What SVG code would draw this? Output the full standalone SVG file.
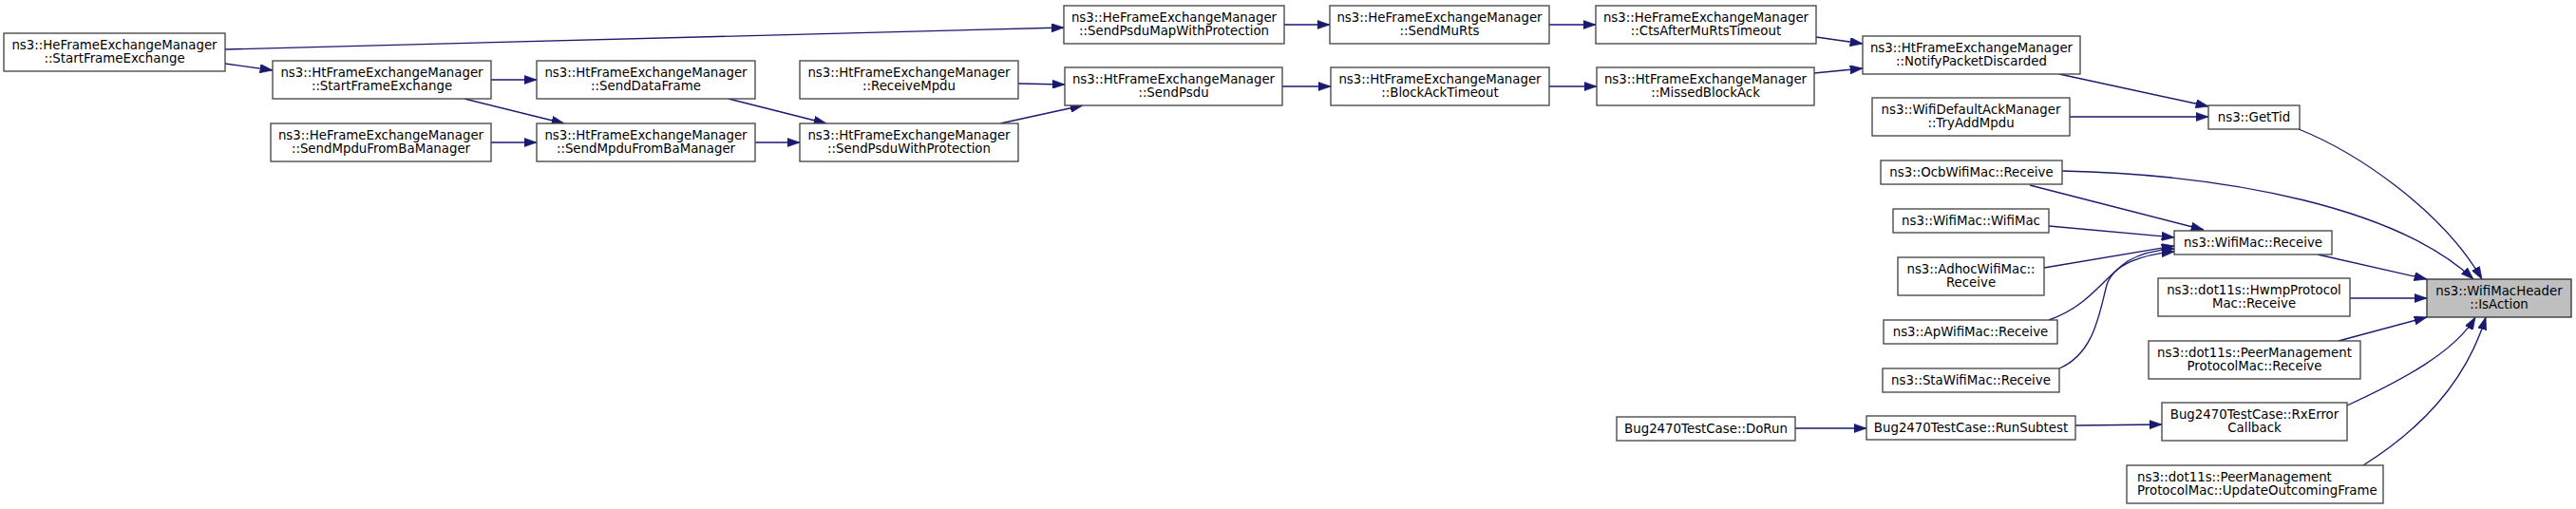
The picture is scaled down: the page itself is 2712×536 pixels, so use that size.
<svg xmlns="http://www.w3.org/2000/svg" width="2712" height="536" viewBox="0 0 2712 536">
<style>
.n rect{fill:#ffffff;stroke:#444444;stroke-width:1.33}
.h rect{fill:#bfbfbf;stroke:#333333;stroke-width:1.33}
text{font-family:"DejaVu Sans","Liberation Sans",sans-serif;font-size:13.33px;fill:#000000;text-anchor:middle}
text.l{text-anchor:start}
#edges path{fill:none;stroke:#191970;stroke-width:1.33;marker-end:url(#arr)}
</style>
<defs>
<marker id="arr" viewBox="0 0 10 7" refX="10" refY="3.5" markerWidth="13.3" markerHeight="9.3" markerUnits="userSpaceOnUse" orient="auto">
<path d="M0,0 L10,3.5 L0,7 Z" fill="#191970" stroke="#191970" stroke-width="0.5"/>
</marker>
</defs>
<rect width="2712" height="536" fill="#ffffff"/>
<g id="edges">
<path d="M237,52 L1120,29"/>
<path d="M237,67 L287,74"/>
<path d="M517,84 L565,84"/>
<path d="M489,104 L594,130"/>
<path d="M517,150 L565,150"/>
<path d="M767,104 L870,130"/>
<path d="M795,150 L842,150"/>
<path d="M1072,88 L1121,89"/>
<path d="M1053,130 L1140,111"/>
<path d="M1352,26 L1400,26"/>
<path d="M1350,91 L1401,91"/>
<path d="M1631,26 L1680,26"/>
<path d="M1631,91 L1681,91"/>
<path d="M1912,39 L1961,46"/>
<path d="M1910,77 L1961,72"/>
<path d="M2168,78 L2325,112"/>
<path d="M2179,123 L2325,123"/>
<path d="M2420,136 C2480,160 2570,220 2613,294"/>
<path d="M2171,180 C2350,184 2525,220 2604,294"/>
<path d="M2137,195 L2320,242"/>
<path d="M2157,238 L2289,250"/>
<path d="M2152,282 L2289,259"/>
<path d="M2157,337 C2200,322 2215,292 2240,275 C2255,266 2270,263 2289,262"/>
<path d="M2168,388 C2205,372 2210,330 2218,300 C2225,278 2255,268 2289,265"/>
<path d="M2440,268 L2555,294"/>
<path d="M2474,314 L2555,314"/>
<path d="M2462,359 L2555,334"/>
<path d="M2471,427 C2530,400 2585,370 2606,334"/>
<path d="M2488,490 C2560,445 2600,390 2617,334"/>
<path d="M1890,451 L1965,451"/>
<path d="M2185,448 L2276,447"/>
</g>
<g id="nA" class="n"><rect x="4" y="35" width="233" height="40"/><text x="120.5" y="51.5">ns3::HeFrameExchangeManager</text><text x="120.5" y="66.2">::StartFrameExchange</text></g>
<g id="nB" class="n"><rect x="287" y="64" width="230" height="40"/><text x="402" y="80.5">ns3::HtFrameExchangeManager</text><text x="402" y="95.2">::StartFrameExchange</text></g>
<g id="nC" class="n"><rect x="285" y="130" width="232" height="40"/><text x="401" y="146.5">ns3::HeFrameExchangeManager</text><text x="401" y="161.2">::SendMpduFromBaManager</text></g>
<g id="nD" class="n"><rect x="565" y="64" width="230" height="40"/><text x="680" y="80.5">ns3::HtFrameExchangeManager</text><text x="680" y="95.2">::SendDataFrame</text></g>
<g id="nE" class="n"><rect x="565" y="130" width="230" height="40"/><text x="680" y="146.5">ns3::HtFrameExchangeManager</text><text x="680" y="161.2">::SendMpduFromBaManager</text></g>
<g id="nF" class="n"><rect x="842" y="64" width="230" height="40"/><text x="957" y="80.5">ns3::HtFrameExchangeManager</text><text x="957" y="95.2">::ReceiveMpdu</text></g>
<g id="nG" class="n"><rect x="842" y="130" width="230" height="40"/><text x="957" y="146.5">ns3::HtFrameExchangeManager</text><text x="957" y="161.2">::SendPsduWithProtection</text></g>
<g id="nH" class="n"><rect x="1120" y="6" width="232" height="40"/><text x="1236" y="22.5">ns3::HeFrameExchangeManager</text><text x="1236" y="37.2">::SendPsduMapWithProtection</text></g>
<g id="nI" class="n"><rect x="1121" y="71" width="229" height="40"/><text x="1235.5" y="87.5">ns3::HtFrameExchangeManager</text><text x="1235.5" y="102.2">::SendPsdu</text></g>
<g id="nJ" class="n"><rect x="1400" y="6" width="231" height="40"/><text x="1515.5" y="22.5">ns3::HeFrameExchangeManager</text><text x="1515.5" y="37.2">::SendMuRts</text></g>
<g id="nK" class="n"><rect x="1401" y="71" width="230" height="40"/><text x="1516" y="87.5">ns3::HtFrameExchangeManager</text><text x="1516" y="102.2">::BlockAckTimeout</text></g>
<g id="nL" class="n"><rect x="1680" y="6" width="232" height="40"/><text x="1796" y="22.5">ns3::HeFrameExchangeManager</text><text x="1796" y="37.2">::CtsAfterMuRtsTimeout</text></g>
<g id="nM" class="n"><rect x="1681" y="71" width="229" height="40"/><text x="1795.5" y="87.5">ns3::HtFrameExchangeManager</text><text x="1795.5" y="102.2">::MissedBlockAck</text></g>
<g id="nN" class="n"><rect x="1961" y="38" width="229" height="40"/><text x="2075.5" y="54.5">ns3::HtFrameExchangeManager</text><text x="2075.5" y="69.2">::NotifyPacketDiscarded</text></g>
<g id="nO" class="n"><rect x="1971" y="103" width="208" height="40"/><text x="2075" y="119.5">ns3::WifiDefaultAckManager</text><text x="2075" y="134.2">::TryAddMpdu</text></g>
<g id="nP" class="n"><rect x="2325" y="111" width="96" height="25"/><text x="2373" y="127.5">ns3::GetTid</text></g>
<g id="nQ" class="n"><rect x="1980" y="169" width="191" height="25"/><text x="2075.5" y="185.5">ns3::OcbWifiMac::Receive</text></g>
<g id="nR" class="n"><rect x="1993" y="220" width="164" height="25"/><text x="2075" y="236.5">ns3::WifiMac::WifiMac</text></g>
<g id="nS" class="n"><rect x="1998" y="271" width="154" height="40"/><text x="2075" y="287.5">ns3::AdhocWifiMac::</text><text x="2075" y="302.2">Receive</text></g>
<g id="nT" class="n"><rect x="1983" y="337" width="183" height="25"/><text x="2074.5" y="353.5">ns3::ApWifiMac::Receive</text></g>
<g id="nY" class="n"><rect x="1982" y="388" width="186" height="25"/><text x="2075" y="404.5">ns3::StaWifiMac::Receive</text></g>
<g id="nDoRun" class="n"><rect x="1702" y="439" width="188" height="25"/><text x="1796" y="455.5">Bug2470TestCase::DoRun</text></g>
<g id="nZ" class="n"><rect x="1965" y="438" width="220" height="25"/><text x="2075" y="454.5">Bug2470TestCase::RunSubtest</text></g>
<g id="nU" class="n"><rect x="2289" y="243" width="166" height="25"/><text x="2372" y="259.5">ns3::WifiMac::Receive</text></g>
<g id="nV" class="n"><rect x="2272" y="293" width="202" height="40"/><text x="2373" y="309.5">ns3::dot11s::HwmpProtocol</text><text x="2373" y="324.2">Mac::Receive</text></g>
<g id="nX" class="n"><rect x="2262" y="359" width="223" height="40"/><text x="2373.5" y="375.5">ns3::dot11s::PeerManagement</text><text x="2373.5" y="390.2">ProtocolMac::Receive</text></g>
<g id="nAA" class="n"><rect x="2276" y="424" width="195" height="40"/><text x="2373.5" y="440.5">Bug2470TestCase::RxError</text><text x="2373.5" y="455.2">Callback</text></g>
<g id="nAB" class="n"><rect x="2239" y="490" width="270" height="40"/><text class="l" x="2250" y="506.5">ns3::dot11s::PeerManagement</text><text class="l" x="2250" y="521.2">ProtocolMac::UpdateOutcomingFrame</text></g>
<g id="nW" class="h"><rect x="2555" y="294" width="152" height="40"/><text x="2631" y="310.5">ns3::WifiMacHeader</text><text x="2631" y="325.2">::IsAction</text></g>
</svg>
